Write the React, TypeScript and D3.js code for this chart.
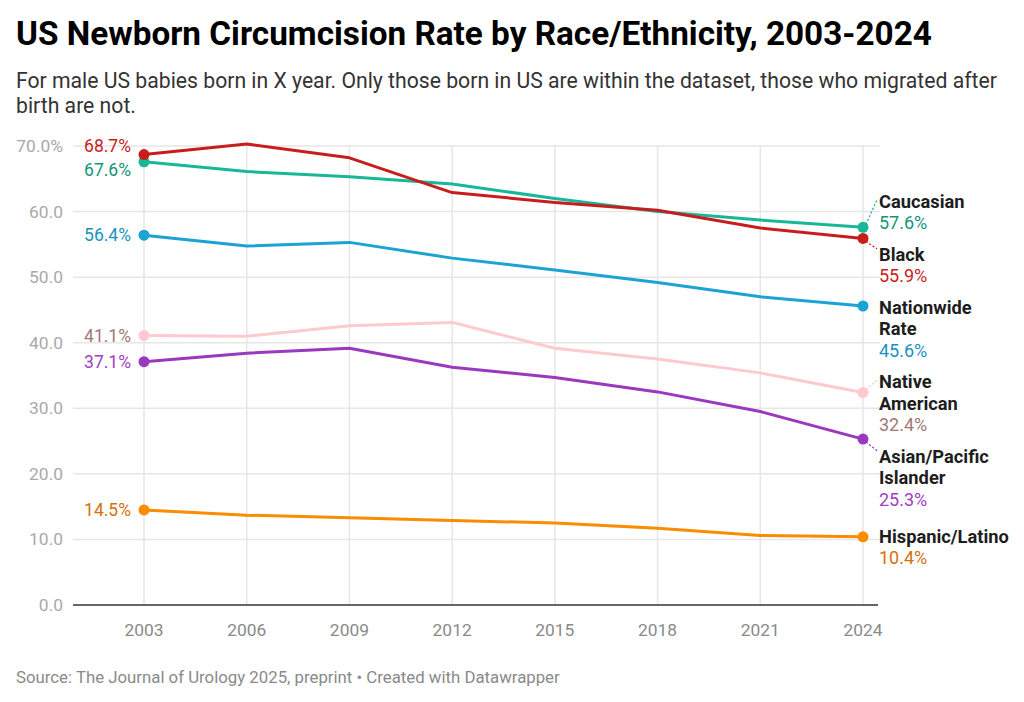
import React from "react";
import * as d3 from "d3";

const years = [2003, 2006, 2009, 2012, 2015, 2018, 2021, 2024];
const seriesNames = ["Caucasian", "Black", "Nationwide Rate", "Native American", "Asian/Pacific Islander", "Hispanic/Latino"];
const labelLines = [["Caucasian"], ["Black"], ["Nationwide", "Rate"], ["Native", "American"], ["Asian/Pacific", "Islander"], ["Hispanic/Latino"]];
const caucasian = [67.6, 66.1, 65.3, 64.2, 62.0, 60.0, 58.7, 57.6];
const black = [68.7, 70.3, 68.2, 62.9, 61.4, 60.2, 57.5, 55.9];
const nationwide = [56.4, 54.75, 55.3, 52.9, 51.1, 49.2, 47.0, 45.6];
const nativeAmerican = [41.1, 41.0, 42.6, 43.1, 39.15, 37.5, 35.4, 32.4];
const asianPacific = [37.1, 38.4, 39.15, 36.25, 34.7, 32.5, 29.5, 25.3];
const hispanic = [14.5, 13.7, 13.3, 12.9, 12.5, 11.7, 10.6, 10.4];
const yTicks = [0, 10, 20, 30, 40, 50, 60, 70];

const lineColors = ["#18b797", "#c71e1d", "#1ba3d3", "#ffc9d0", "#9a38bf", "#fa8c00"];
const valueColors = ["#13957b", "#c71e1d", "#1894c2", "#a07878", "#a23ec2", "#d5700a"];

const allValues = [caucasian, black, nationwide, nativeAmerican, asianPacific, hispanic];

const FONT = "Roboto, 'Noto Sans', sans-serif";

function relax(items: { y: number; h: number }[], gap: number) {
  const order = items.map((d, i) => i).sort((a, b) => items[a].y - items[b].y);
  for (let it = 0; it < 300; it++) {
    let moved = false;
    for (let k = 0; k < order.length - 1; k++) {
      const a = items[order[k]];
      const b = items[order[k + 1]];
      const need = a.y + a.h + gap;
      if (b.y < need - 0.01) {
        const ov = need - b.y;
        a.y -= ov / 2;
        b.y += ov / 2;
        moved = true;
      }
    }
    if (!moved) break;
  }
  return items;
}

export default function App() {
  const W = 1024;
  const H = 702;
  const x = d3.scaleLinear().domain([2003, 2024]).range([144, 863]);
  const y = d3.scaleLinear().domain([0, 70]).range([605, 146]);
  const plotLeft = 73;
  const plotRight = 880;
  const line = d3
    .line<number>()
    .x((d, i) => x(years[i]))
    .y((d) => y(d));

  const lineH = 21.5;
  const last = years.length - 1;
  const rightItems = relax(
    allValues.map((v, i) => ({ y: y(v[last]), h: labelLines[i].length * lineH + lineH })),
    10
  );
  const leftItems = relax(
    allValues.map((v) => ({ y: y(v[0]), h: 20 })),
    4
  );
  const labelX = 879;

  return (
    <svg width={W} height={H} style={{ position: "absolute", left: 0, top: 0, background: "#fff" }} fontFamily={FONT}>
      <text x={16} y={45} fontSize={33.3} fontWeight={700} fill="#000">
        US Newborn Circumcision Rate by Race/Ethnicity, 2003-2024
      </text>
      <text x={16} y={88} fontSize={21.2} fill="#333">
        For male US babies born in X year. Only those born in US are within the dataset, those who migrated after
      </text>
      <text x={16} y={113} fontSize={21.2} fill="#333">
        birth are not.
      </text>

      {yTicks.map((t) => (
        <g key={"y" + t}>
          {t > 0 && <line x1={plotLeft} x2={plotRight} y1={y(t)} y2={y(t)} stroke="#e6e6e6" strokeWidth={1.5} />}
          <text x={63} y={y(t) + 6} fontSize={17.4} fill="#a9a9a9" textAnchor="end">
            {t.toFixed(1) + (t === 70 ? "%" : "")}
          </text>
        </g>
      ))}
      {years.map((yr) => (
        <g key={"x" + yr}>
          <line x1={x(yr)} x2={x(yr)} y1={y(70)} y2={y(0)} stroke="#e6e6e6" strokeWidth={1.5} />
          <text x={x(yr)} y={636} fontSize={17.4} fill="#8a8a8a" textAnchor="middle">
            {yr}
          </text>
        </g>
      ))}
      <line x1={plotLeft} x2={878} y1={y(0)} y2={y(0)} stroke="#333" strokeWidth={1.6} />

      {allValues.map((v, i) => (
        <g key={"s" + i}>
          <path d={line(v) || ""} fill="none" stroke={lineColors[i]} strokeWidth={3} strokeLinejoin="round" />
          <circle cx={x(years[0])} cy={y(v[0])} r={5.5} fill={lineColors[i]} />
          <circle cx={x(years[last])} cy={y(v[last])} r={5.5} fill={lineColors[i]} />
        </g>
      ))}

      {allValues.map((v, i) => (
        <text key={"l" + i} x={131} y={leftItems[i].y + 6} fontSize={17.5} fill={valueColors[i]} textAnchor="end">
          {v[0].toFixed(1) + "%"}
        </text>
      ))}

      {allValues.map((v, i) => {
        const py = y(v[last]);
        const ty = rightItems[i].y;
        const lines = labelLines[i];
        const shifted = Math.abs(ty - py) > 3;
        return (
          <g key={"r" + i}>
            {shifted && (
              <line
                x1={x(years[last]) + 3}
                y1={py + (ty < py ? -3 : 3)}
                x2={labelX - 2}
                y2={ty + (ty < py ? -2 : -6)}
                stroke={lineColors[i]}
                strokeWidth={1.3}
                strokeDasharray="2,2"
              />
            )}
            {lines.map((ln, k) => (
              <text key={k} x={labelX} y={ty + 6 + k * lineH} fontSize={18.3} fontWeight={700} fill="#1d1d1d">
                {ln}
              </text>
            ))}
            <text x={labelX} y={ty + 6 + lines.length * lineH} fontSize={18} fill={valueColors[i]}>
              {v[last].toFixed(1) + "%"}
            </text>
          </g>
        );
      })}

      <text x={16} y={683} fontSize={16.8} fill="#8a8a8a">
        Source: The Journal of Urology 2025, preprint • Created with Datawrapper
      </text>
    </svg>
  );
}
